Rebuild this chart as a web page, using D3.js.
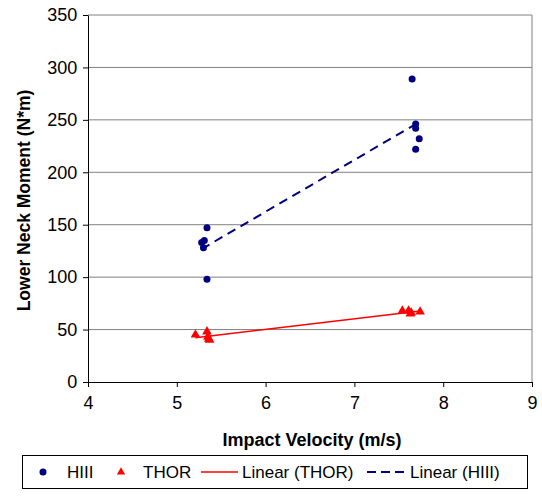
<!DOCTYPE html>
<html>
<head>
<meta charset="utf-8">
<script src="https://cdn.jsdelivr.net/npm/d3@7"></script>
<style>
  body { margin: 0; background: #fff; }
  text { font-family: "Liberation Sans", Arial, sans-serif; }
</style>
</head>
<body>
<div id="chart"></div>
<script>
// data
var hiiiVelocity = [5.34, 5.31, 5.28, 5.30, 5.34, 7.65, 7.69, 7.69, 7.73, 7.69];
var hiiiMoment   = [147, 135, 133, 128, 98, 289, 246, 242, 232, 222];
var thorVelocity = [5.21, 5.34, 5.35, 5.36, 5.37, 7.54, 7.61, 7.63, 7.64, 7.74];
var thorMoment   = [45, 48, 43, 41, 40, 68, 68, 65, 66, 67];
var xTicks = [4, 5, 6, 7, 8, 9];
var yTicks = [0, 50, 100, 150, 200, 250, 300, 350];
var legendLabels = ["HIII", "THOR", "Linear (THOR)", "Linear (HIII)"];

var svgWidth = 542, svgHeight = 496;
var margin = { top: 15, right: 10, bottom: 114, left: 88 };
var width = svgWidth - margin.left - margin.right;
var height = svgHeight - margin.top - margin.bottom;

var svg = d3.select("#chart").append("svg")
  .attr("width", svgWidth)
  .attr("height", svgHeight);

var chartGroup = svg.append("g")
  .attr("transform", `translate(${margin.left}, ${margin.top})`);

var x = d3.scaleLinear().domain([4, 9]).range([0, width]);
var y = d3.scaleLinear().domain([0, 350]).range([height, 0]);

// gridlines
chartGroup.selectAll(".grid")
  .data(yTicks.filter(d => d > 0))
  .join("line")
  .attr("x1", 0).attr("x2", width)
  .attr("y1", d => y(d)).attr("y2", d => y(d))
  .attr("stroke", "#808080")
  .attr("stroke-width", 1);

// right border
chartGroup.append("line")
  .attr("x1", width).attr("x2", width)
  .attr("y1", 0).attr("y2", height)
  .attr("stroke", "#808080");

// axes
var bottomAxis = d3.axisBottom(x).tickValues(xTicks).tickFormat(d3.format("d")).tickSize(5).tickSizeOuter(0);
var leftAxis = d3.axisLeft(y).tickValues(yTicks).tickFormat(d3.format("d")).tickSize(5).tickSizeOuter(0);

var xg = chartGroup.append("g")
  .attr("transform", `translate(0, ${height})`)
  .call(bottomAxis);
xg.selectAll("text").attr("font-size", 18).attr("dy", "1.05em").attr("fill", "#000");

var yg = chartGroup.append("g").call(leftAxis);
yg.selectAll("text").attr("font-size", 18).attr("dx", "-0.15em").attr("fill", "#000");
chartGroup.selectAll(".domain").attr("stroke", "#000");
chartGroup.selectAll(".tick line").attr("stroke", "#000");

// linear regression for trendlines
function fit(xs, ys) {
  var mx = d3.mean(xs), my = d3.mean(ys);
  var sxy = d3.sum(xs, (v, i) => (v - mx) * (ys[i] - my));
  var sxx = d3.sum(xs, v => (v - mx) * (v - mx));
  var b = sxy / sxx, a = my - b * mx;
  var x0 = d3.min(xs), x1 = d3.max(xs);
  return [[x0, a + b * x0], [x1, a + b * x1]];
}
var line = d3.line().x(d => x(d[0])).y(d => y(d[1]));

chartGroup.append("path")
  .attr("d", line(fit(thorVelocity, thorMoment)))
  .attr("stroke", "#ff0000").attr("stroke-width", 1.5).attr("fill", "none");

chartGroup.append("path")
  .attr("d", line(fit(hiiiVelocity, hiiiMoment)))
  .attr("stroke", "#000080").attr("stroke-width", 2)
  .attr("stroke-dasharray", "9,6").attr("fill", "none");

// points
chartGroup.selectAll(".hiii")
  .data(hiiiVelocity)
  .join("circle")
  .attr("cx", d => x(d))
  .attr("cy", (d, i) => y(hiiiMoment[i]))
  .attr("r", 3.5)
  .attr("fill", "#000080");

var tri = d3.symbol().type(d3.symbolTriangle).size(40);
chartGroup.selectAll(".thor")
  .data(thorVelocity)
  .join("path")
  .attr("d", tri)
  .attr("transform", (d, i) => `translate(${x(d)}, ${y(thorMoment[i])})`)
  .attr("fill", "#ff0000");

// axis titles
svg.append("text")
  .attr("transform", `translate(30, ${margin.top + height / 2 + 2}) rotate(-90)`)
  .attr("text-anchor", "middle")
  .attr("font-size", 17.5).attr("font-weight", "bold")
  .text("Lower Neck Moment (N*m)");

svg.append("text")
  .attr("x", margin.left + width / 2 + 2)
  .attr("y", 446)
  .attr("text-anchor", "middle")
  .attr("font-size", 18).attr("font-weight", "bold")
  .text("Impact Velocity (m/s)");

// legend
var legend = svg.append("g");
legend.append("rect")
  .attr("x", 22.5).attr("y", 455.5).attr("width", 505).attr("height", 33)
  .attr("fill", "#fff").attr("stroke", "#000");

legend.append("circle").attr("cx", 43).attr("cy", 472).attr("r", 3.5).attr("fill", "#000080");
legend.append("path").attr("d", d3.symbol().type(d3.symbolTriangle).size(30))
  .attr("transform", "translate(121, 472)").attr("fill", "#ff0000");
legend.append("line").attr("x1", 201).attr("x2", 238).attr("y1", 472).attr("y2", 472)
  .attr("stroke", "#ff0000").attr("stroke-width", 1.5);
legend.append("line").attr("x1", 367).attr("x2", 408).attr("y1", 472).attr("y2", 472)
  .attr("stroke", "#000080").attr("stroke-width", 2).attr("stroke-dasharray", "9,5");

var legendX = [67, 143, 242, 410];
legend.selectAll(".lt")
  .data(legendLabels)
  .join("text")
  .attr("x", (d, i) => legendX[i])
  .attr("y", 478)
  .attr("font-size", 17)
  .text(d => d);
</script>
</body>
</html>
